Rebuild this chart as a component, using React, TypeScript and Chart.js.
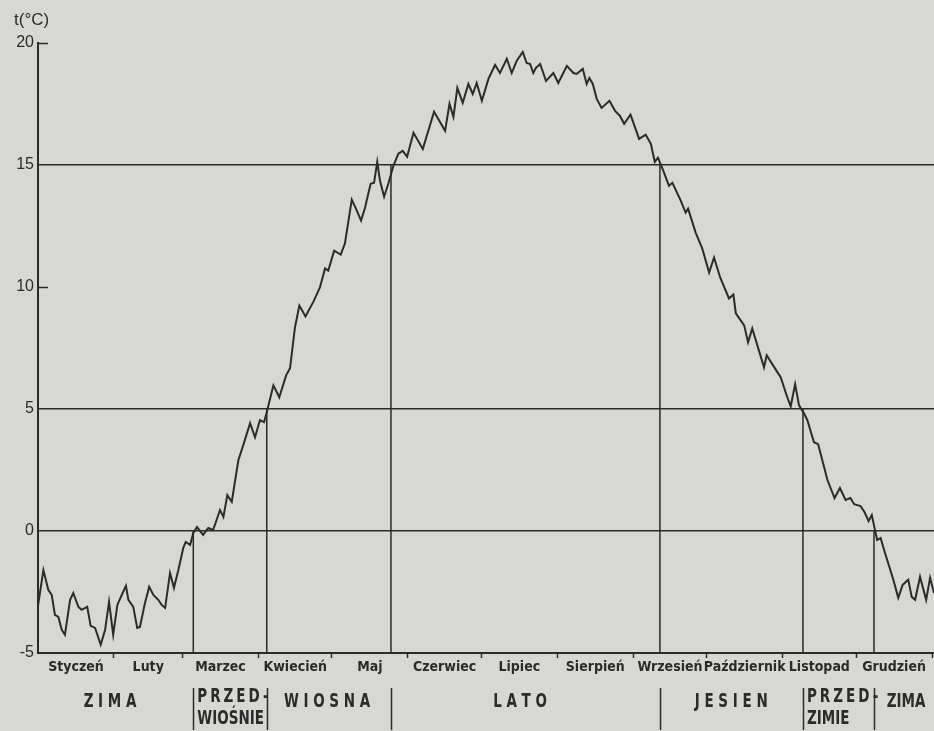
import React, { useEffect, useRef } from 'react';
import { Chart, registerables } from 'chart.js';

Chart.register(...registerables);

// ---------- data ----------
const MONTHS = ['Styczeń', 'Luty', 'Marzec', 'Kwiecień', 'Maj', 'Czerwiec', 'Lipiec', 'Sierpień', 'Wrzesień', 'Październik', 'Listopad', 'Grudzień'];
const MONTH_START_DAYS = [0, 31, 59, 90, 120, 151, 181, 212, 243, 273, 304, 334, 365];
const Y_TICKS = [-5, 0, 5, 10, 15, 20];
const GRID_VALUES = [0, 5, 15];
const SHORT_TICK_VALUES = [10, 20];

const DAYS = [
  0, 2.2, 4.2, 5.6, 6.9, 8.3, 9.7, 11.0, 13.1, 14.4,
  16.5, 17.8, 20.1, 21.5, 23.3, 25.6, 27.4, 29.0, 30.7, 32.4,
  34.2, 35.9, 36.9, 38.9, 40.5, 41.6, 43.7, 45.4, 47.1, 49.1,
  50.5, 51.9, 53.9, 55.5, 57.3, 59.3, 60.3, 62.1, 63.4, 64.9,
  67.4, 69.5, 71.5, 74.3, 75.7, 77.3, 79.1, 81.8, 83.8, 86.6,
  88.6, 90.6, 92.3, 93.6, 96.1, 98.5, 101.3, 102.9, 104.9, 106.7,
  109.2, 112.5, 115.1, 117.2, 118.5, 120.9, 123.6, 125.3, 128.1, 129.8,
  131.9, 133.5, 135.8, 137.2, 138.5, 139.6, 141.3, 143.0, 145.1, 147.1,
  148.9, 150.7, 153.3, 157.1, 161.7, 166.2, 168.0, 169.6, 171.2, 173.4,
  175.7, 177.5, 179.1, 181.2, 183.9, 186.6, 188.6, 191.4, 193.4, 195.4,
  197.9, 199.5, 200.9, 202.2, 203.3, 205.0, 207.4, 210.4, 212.4, 215.9,
  218.6, 219.9, 222.4, 224.0, 225.1, 226.5, 228.1, 230.1, 233.3, 235.6,
  237.6, 239.3, 241.9, 245.4, 248.1, 250.2, 251.8, 253.1, 255.3, 257.6,
  259.0, 262.4, 264.4, 265.4, 268.5, 271.2, 274.0, 276.0, 278.5, 282.1,
  283.9, 284.9, 288.3, 289.9, 291.6, 296.4, 297.5, 301.9, 303.2, 305.9,
  307.3, 309.1, 310.7, 312.7, 314.1, 316.8, 318.5, 322.3, 325.2, 327.4,
  329.7, 331.7, 333.2, 335.8, 337.4, 339.1, 340.4, 342.6, 344.0, 345.8,
  349.2, 351.2, 353.0, 355.3, 356.7, 358.1, 360.1, 362.6, 364.2, 365.8,
];

const TEMPS = [
  -3.07, -1.60, -2.41, -2.62, -3.44, -3.52, -4.05, -4.25, -2.82, -2.54,
  -3.11, -3.23, -3.11, -3.89, -3.97, -4.66, -4.05, -2.90, -4.25, -3.03,
  -2.62, -2.25, -2.82, -3.11, -3.97, -3.93, -2.94, -2.29, -2.62, -2.82,
  -3.03, -3.15, -1.72, -2.33, -1.60, -0.70, -0.45, -0.57, -0.08, 0.16,
  -0.16, 0.12, 0.04, 0.86, 0.58, 1.47, 1.20, 2.90, 3.52, 4.42,
  3.84, 4.54, 4.46, 4.95, 5.97, 5.48, 6.38, 6.67, 8.34, 9.24,
  8.79, 9.41, 9.98, 10.76, 10.67, 11.49, 11.33, 11.78, 13.58, 13.21,
  12.72, 13.25, 14.23, 14.27, 15.13, 14.36, 13.70, 14.23, 14.97, 15.46,
  15.58, 15.34, 16.32, 15.66, 17.18, 16.40, 17.51, 16.97, 18.16, 17.55,
  18.32, 17.91, 18.36, 17.63, 18.53, 19.10, 18.77, 19.35, 18.77, 19.26,
  19.63, 19.18, 19.14, 18.77, 18.98, 19.14, 18.45, 18.77, 18.36, 19.06,
  18.77, 18.73, 18.94, 18.32, 18.57, 18.32, 17.71, 17.34, 17.63, 17.22,
  17.01, 16.69, 17.06, 16.07, 16.24, 15.87, 15.13, 15.30, 14.76, 14.15,
  14.27, 13.54, 13.05, 13.21, 12.23, 11.57, 10.59, 11.21, 10.39, 9.53,
  9.69, 8.92, 8.43, 7.73, 8.30, 6.71, 7.20, 6.50, 6.30, 5.48,
  5.11, 6.01, 5.15, 4.83, 4.54, 3.64, 3.56, 2.09, 1.35, 1.76,
  1.27, 1.35, 1.10, 1.02, 0.78, 0.41, 0.65, -0.37, -0.29, -0.90,
  -2.00, -2.74, -2.21, -2.00, -2.70, -2.82, -1.88, -2.82, -1.92, -2.54,
];

// season boundaries: day where the curve crosses the threshold
const SEASON_BOUNDARY_DAYS = [63.4, 93.4, 144.1, 253.9, 312.3, 341.3];
const SEASON_THRESHOLDS = [0, 5, 15, 15, 5, 0];
const SEASON_LABELS = [['Z I M A'], ['PRZED-', 'WIOŚNIE'], ['W I O S N A'], ['L A T O'], ['J E S I E N'], ['PRZED-', 'ZIMIE'], ['ZIMA']];
const SEASON_LABEL_DAYS = [29.4, 63.4, 118.0, 196.8, 283.0, 312.3, 354.4];
const SEASON_LABEL_ALIGN = ['center', 'left', 'center', 'center', 'center', 'left', 'center'];

// ---------- style ----------
const INK = '#2b2b2b';
const BG = '#d7d7d3';
const CONDENSED = "'DejaVu Sans Condensed', 'Liberation Sans', sans-serif";
const SANS = "'Liberation Sans', Arial, sans-serif";

const monthMid = MONTHS.map((_, i) => (MONTH_START_DAYS[i] + MONTH_START_DAYS[i + 1]) / 2);
const labelByValue = new Map<number, string>();
monthMid.forEach((v, i) => labelByValue.set(v, MONTHS[i]));
const boundaryTicks = MONTH_START_DAYS.slice(1);
const X_TICK_VALUES = [...monthMid, ...boundaryTicks].sort((a, b) => a - b);

const seasonPlugin = {
  id: 'seasonDecor',
  afterDraw(chart: any) {
    const { ctx, chartArea, scales } = chart;
    const xs = scales.x;
    const ys = scales.y;
    ctx.save();
    ctx.strokeStyle = INK;
    ctx.lineWidth = 1.5;
    // short inner ticks on y axis
    SHORT_TICK_VALUES.forEach((v) => {
      const y = Math.round(ys.getPixelForValue(v)) + 0.5;
      ctx.beginPath();
      ctx.moveTo(chartArea.left, y);
      ctx.lineTo(chartArea.left + 10, y);
      ctx.stroke();
    });
    // separators below the month row
    SEASON_BOUNDARY_DAYS.forEach((d) => {
      const x = Math.round(xs.getPixelForValue(d)) + 0.5;
      ctx.beginPath();
      ctx.moveTo(x, chartArea.bottom + 35);
      ctx.lineTo(x, chartArea.bottom + 77);
      ctx.stroke();
    });
    // season names (tall, narrow lettering)
    ctx.fillStyle = INK;
    ctx.font = `bold 20px ${CONDENSED}`;
    ctx.textBaseline = 'middle';
    const sx = 0.75;
    const put = (text: string, x: number, y: number, align: string) => {
      ctx.save();
      ctx.translate(x, y);
      ctx.scale(sx, 1);
      ctx.textAlign = align as CanvasTextAlign;
      (ctx as any).letterSpacing = text === 'PRZED-' ? '4px' : '0px';
      ctx.fillText(text, 0, 0);
      ctx.restore();
    };
    SEASON_LABELS.forEach((lines, i) => {
      const align = SEASON_LABEL_ALIGN[i];
      let x = xs.getPixelForValue(SEASON_LABEL_DAYS[i]);
      if (align === 'left') x += 4;
      if (lines.length === 1) {
        put(lines[0], x, chartArea.bottom + 49, align);
      } else {
        put(lines[0], x, chartArea.bottom + 44, align);
        put(lines[1], x, chartArea.bottom + 66, align);
      }
    });
    ctx.restore();
  },
};

export default function App() {
  const canvasRef = useRef<HTMLCanvasElement | null>(null);

  useEffect(() => {
    const canvas = canvasRef.current;
    if (!canvas) return;

    const curve = DAYS.map((d, i) => ({ x: d, y: TEMPS[i] }));
    const verticals: any[] = [];
    SEASON_BOUNDARY_DAYS.forEach((d, i) => {
      verticals.push({ x: d, y: SEASON_THRESHOLDS[i] });
      verticals.push({ x: d, y: Y_TICKS[0] });
      verticals.push({ x: d, y: null });
    });

    const chart = new Chart(canvas, {
      type: 'line',
      data: {
        datasets: [
          {
            data: curve,
            borderColor: INK,
            borderWidth: 2,
            pointRadius: 0,
            tension: 0,
            order: 0,
          },
          {
            data: verticals,
            borderColor: INK,
            borderWidth: 1.5,
            pointRadius: 0,
            spanGaps: false,
            order: 1,
          },
        ],
      },
      options: {
        responsive: false,
        animation: false,
        devicePixelRatio: 1,
        layout: { padding: { left: 14, right: 0, top: 0, bottom: 0 } },
        plugins: {
          legend: { display: false },
          tooltip: { enabled: false },
          title: {
            display: true,
            text: 't(°C)',
            align: 'start',
            color: INK,
            font: { family: SANS, size: 17, weight: 'normal', lineHeight: 1.2 },
            padding: { top: 10, bottom: 12.6 },
          },
        },
        scales: {
          x: {
            type: 'linear',
            min: 0,
            max: 365.8,
            afterFit: (scale: any) => {
              scale.height = 78;
            },
            afterBuildTicks: (scale: any) => {
              scale.ticks = X_TICK_VALUES.map((v) => ({ value: v }));
            },
            grid: {
              display: true,
              drawOnChartArea: false,
              drawTicks: true,
              tickLength: 5,
              tickWidth: 1.5,
              tickColor: (ctx: any) => (ctx.tick && labelByValue.has(ctx.tick.value) ? 'rgba(0,0,0,0)' : INK),
            },
            border: { display: true, color: INK, width: 2 },
            ticks: {
              autoSkip: false,
              maxRotation: 0,
              minRotation: 0,
              padding: 1,
              color: INK,
              font: { family: CONDENSED, size: 14, weight: 'bold' },
              callback: (value: any) => labelByValue.get(Number(value)) ?? '',
            },
          },
          y: {
            type: 'linear',
            min: Y_TICKS[0],
            max: Y_TICKS[Y_TICKS.length - 1],
            afterFit: (scale: any) => {
              scale.width = 24;
            },
            afterBuildTicks: (scale: any) => {
              scale.ticks = Y_TICKS.map((v) => ({ value: v }));
            },
            grid: {
              display: true,
              drawTicks: false,
              lineWidth: 1.5,
              color: (ctx: any) => (ctx.tick && GRID_VALUES.includes(ctx.tick.value) ? INK : 'rgba(0,0,0,0)'),
            },
            border: { display: true, color: INK, width: 2 },
            ticks: {
              padding: 4,
              color: INK,
              font: { family: SANS, size: 16 },
              callback: (value: any) => String(value),
            },
          },
        },
      },
      plugins: [seasonPlugin],
    });

    return () => chart.destroy();
  }, []);

  return (
    <div style={{ position: 'absolute', left: 0, top: 0, width: 934, height: 731, background: BG }}>
      <canvas ref={canvasRef} width={934} height={731} style={{ display: 'block' }} />
    </div>
  );
}
